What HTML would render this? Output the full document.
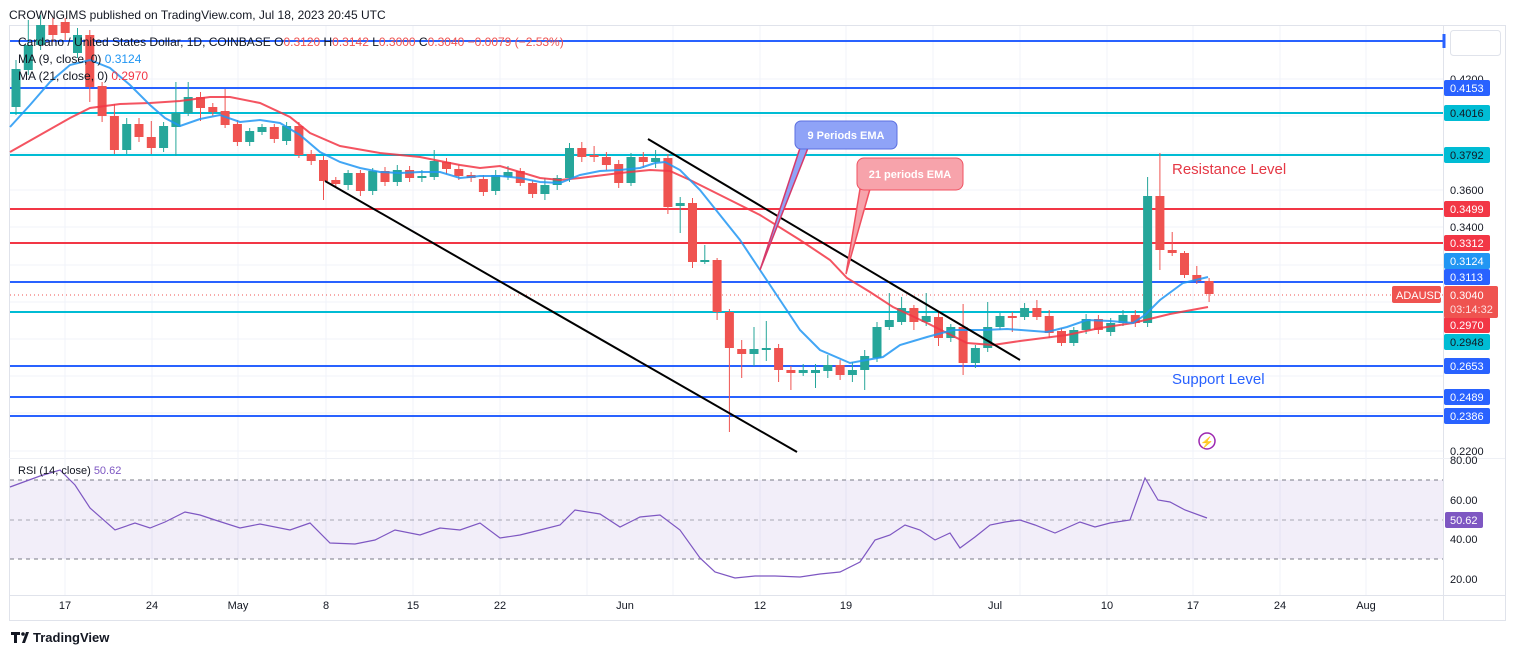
<!DOCTYPE html>
<html><head><meta charset="utf-8"><style>
body{margin:0;background:#fff;width:1515px;height:655px;overflow:hidden;font-family:"Liberation Sans",sans-serif}
svg text{font-family:"Liberation Sans",sans-serif}
</style></head><body>
<svg id="s" width="1515" height="655" viewBox="0 0 1515 655" xmlns="http://www.w3.org/2000/svg">
<rect width="1515" height="655" fill="#fff"/>
<text x="9" y="19" font-size="12" fill="#131722">CROWNGIMS published on TradingView.com, Jul 18, 2023 20:45 UTC</text>
<rect x="9.5" y="25.5" width="1496" height="595" fill="none" stroke="#e0e3eb"/>
<line x1="1443.5" y1="25" x2="1443.5" y2="620" stroke="#e0e3eb"/>
<line x1="9" y1="595.5" x2="1505" y2="595.5" stroke="#e0e3eb"/>
<line x1="9" y1="458.5" x2="1505" y2="458.5" stroke="#eef0f5"/>
<g id="grid" stroke="#f0f3fa"></g>
<g id="hl"></g>
<line x1="10" y1="295" x2="1443" y2="295" stroke="#ef5350" stroke-dasharray="1,3"/>
<g id="c"></g>
<polyline id="red" fill="none" stroke="#f23645" stroke-width="2" opacity="0.85"/>
<polyline id="blue" fill="none" stroke="#2196f3" stroke-width="2" opacity="0.85"/>
<line x1="325" y1="181" x2="797" y2="452" stroke="#000" stroke-width="2"/>
<line x1="648" y1="139" x2="1020" y2="360" stroke="#000" stroke-width="2"/>
<path d="M800,148 L760,270 L808,148 Z" fill="#8fa3f7" stroke="#d63a6a" stroke-width="1.5"/>
<rect x="795" y="121" width="102" height="28" rx="6" fill="#8fa3f7" stroke="#5b6fe0"/>
<text x="846" y="139" font-size="11" fill="#fff" text-anchor="middle" font-weight="bold">9 Periods EMA</text>
<path d="M860,189 L846,274 L870,189 Z" fill="#f7a3ab" stroke="#f05060" stroke-width="1.5"/>
<rect x="857" y="158" width="106" height="32" rx="7" fill="#f7a3ab" stroke="#f05060"/>
<text x="910" y="178" font-size="11" fill="#fff" text-anchor="middle" font-weight="bold">21 periods EMA</text>
<text x="1172" y="174" font-size="15" fill="#e53845">Resistance Level</text>
<text x="1172" y="384" font-size="15" fill="#2962ff">Support Level</text>
<circle cx="1207" cy="441" r="8" fill="none" stroke="#9c27b0" stroke-width="1.5"/>
<text x="1207" y="446" font-size="11" fill="#9c27b0" text-anchor="middle">⚡</text>
<text x="18" y="46" font-size="12" fill="#131722">Cardano / United States Dollar, 1D, COINBASE  <tspan>O</tspan><tspan fill="#ef5350">0.3120</tspan>  H<tspan fill="#ef5350">0.3142</tspan>  L<tspan fill="#ef5350">0.3000</tspan>  C<tspan fill="#ef5350">0.3040</tspan>  <tspan fill="#ef5350">−0.0079 (−2.53%)</tspan></text>
<text x="18" y="63" font-size="12" fill="#131722">MA (9, close, 0)  <tspan fill="#2196f3">0.3124</tspan></text>
<text x="18" y="80" font-size="12" fill="#131722">MA (21, close, 0)  <tspan fill="#f23645">0.2970</tspan></text>
<rect x="1450.5" y="30.5" width="50" height="25" rx="3" fill="#fff" stroke="#e0e3eb"/>
<g id="ax" font-size="11" fill="#131722"></g>
<g id="tags" font-size="11"></g>
<rect x="10" y="480" width="1433" height="79" fill="#7e57c2" opacity="0.1"/>
<line x1="10" y1="480" x2="1443" y2="480" stroke="#787b86" stroke-dasharray="4,4"/>
<line x1="10" y1="520" x2="1443" y2="520" stroke="#787b86" stroke-dasharray="4,4" opacity="0.6"/>
<line x1="10" y1="559" x2="1443" y2="559" stroke="#787b86" stroke-dasharray="4,4"/>
<polyline id="rsi" fill="none" stroke="#7e57c2" stroke-width="1.2"/>
<text x="18" y="474" font-size="11" fill="#131722">RSI (14, close)  <tspan fill="#7e57c2">50.62</tspan></text>
<g font-size="11" fill="#131722">
<text x="1450" y="464">80.00</text><text x="1450" y="504">60.00</text><text x="1450" y="543">40.00</text><text x="1450" y="583">20.00</text></g>
<rect x="1445" y="512" width="38" height="16" rx="2" fill="#7e57c2"/>
<text x="1450" y="524" font-size="11" fill="#fff">50.62</text>
<g font-size="11" fill="#131722" text-anchor="middle">
<text x="65" y="609">17</text><text x="152" y="609">24</text><text x="238" y="609">May</text><text x="326" y="609">8</text><text x="413" y="609">15</text><text x="500" y="609">22</text><text x="625" y="609">Jun</text><text x="760" y="609">12</text><text x="846" y="609">19</text><text x="995" y="609">Jul</text><text x="1107" y="609">10</text><text x="1193" y="609">17</text><text x="1280" y="609">24</text><text x="1366" y="609">Aug</text></g>
<path d="M11,632 h9 v3 h-3 v8 h-3 v-8 h-3z M22,643 l4,-11 h3 l-4,11z" fill="#131722"/>
<circle cx="23" cy="634" r="1.8" fill="#131722"/>
<text x="33" y="642" font-size="13" fill="#131722" font-weight="bold">TradingView</text>
</svg>
<script>
const NS="http://www.w3.org/2000/svg";
function el(p,t,a,txt){const e=document.createElementNS(NS,t);for(const k in a)e.setAttribute(k,a[k]);if(txt!==undefined)e.textContent=txt;document.getElementById(p).appendChild(e);return e;}
[65,152,238,326,413,500,587,673,760,846,933,1020,1107,1193,1280,1366].forEach(x=>el('grid','line',{x1:x,y1:26,x2:x,y2:595}));
[79,116,153,190,227,265,302,339,376,413,451].forEach(y=>el('grid','line',{x1:10,y1:y,x2:1443,y2:y}));
const B="#2962ff",T="#00bcd4",R="#f23645";
const lines=[[41,B],[88,B],[113,T],[155,T],[209,R],[243,R],[282,B],[312,T],[366,B],[397,B],[416,B]];
lines.forEach(l=>{el('hl','line',{x1:10,y1:l[0],x2:1443,y2:l[0],stroke:l[1],"stroke-width":2});});
el('hl','line',{x1:1444,y1:34,x2:1444,y2:48,stroke:B,"stroke-width":3});
const C=[[107,69,60,115],[70,45,20,75],[45,25,15,50],[25,35,18,42],[22,33,18,40],[53,35,28,58],[35,87,30,102],[86,116,82,122],[116,150,104,154],[150,124,118,154],[124,137,118,142],[137,148,121,154],[148,126,122,152],[127,113,82,156],[113,97,82,116],[97,108,92,121],[107,112,103,116],[111,125,89,128],[124,142,120,146],[142,131,128,146],[132,127,124,135],[127,139,124,143],[141,126,122,145],[126,155,122,158],[154,161,150,165],[160,181,156,200],[180,184,177,188],[185,173,170,190],[173,191,170,196],[191,171,168,195],[171,182,167,186],[182,170,165,186],[170,178,166,182],[178,176,170,182],[177,161,150,180],[162,169,158,174],[169,176,165,180],[175,178,172,182],[179,192,175,196],[191,175,170,195],[177,172,166,180],[171,183,168,186],[183,194,180,198],[194,185,178,200],[185,178,175,190],[178,148,143,182],[148,157,142,162],[155,157,146,162],[157,165,152,170],[164,183,160,188],[183,157,153,186],[157,162,152,168],[162,158,150,168],[158,207,154,214],[206,203,197,233],[203,262,198,268],[262,260,245,264],[260,312,258,320],[312,348,309,432],[349,354,340,378],[354,349,327,366],[350,348,321,361],[348,370,344,382],[370,373,366,390],[373,370,364,376],[373,370,364,388],[371,365,355,378],[365,375,360,380],[375,370,362,382],[370,356,350,390],[358,327,322,362],[327,320,293,330],[322,308,297,325],[308,322,305,330],[322,316,293,326],[317,338,312,346],[338,327,324,342],[327,363,304,375],[363,348,345,368],[348,327,302,352],[327,316,313,330],[316,318,312,332],[317,308,303,320],[308,317,300,320],[316,333,310,338],[331,343,328,346],[343,330,327,346],[330,319,314,334],[319,330,315,334],[332,323,318,336],[323,315,310,326],[315,323,310,327],[323,196,177,327],[196,250,153,270],[250,253,232,256],[253,275,251,278],[275,281,266,284],[281,294,278,302]];
C.forEach((c,i)=>{const x=16+12.3*i;const up=c[1]<c[0];const col=up?"#26a69a":"#ef5350";
el('c','line',{x1:x,y1:c[2],x2:x,y2:c[3],stroke:col,"stroke-width":1});
const t=Math.min(c[0],c[1]),h=Math.max(2,Math.abs(c[0]-c[1]));el('c','rect',{x:x-4.5,y:t,width:9,height:h,fill:col});});
const blue=[[10,127],[30,105],[50,82],[70,65],[90,60],[110,68],[130,85],[150,105],[165,118],[180,126],[200,119],[220,115],[240,122],[260,120],[280,123],[300,135],[320,152],[340,162],[360,168],[380,172],[400,173],[420,172],[440,172],[460,178],[480,176],[500,176],[520,178],[540,182],[560,183],[580,175],[600,171],[620,170],[640,168],[655,163],[665,162],[680,170],[700,190],[720,215],[740,240],[760,270],[780,300],[800,330],[820,350],[850,363],[883,357],[900,345],[927,337],[953,330],[983,330],[1007,329],[1047,332],[1067,327],[1087,320],[1110,321],[1133,323],[1145,315],[1160,300],[1183,283],[1208,277]];
const red=[[10,152],[40,135],[70,118],[90,108],[120,104],[150,103],[180,101],[210,97],[230,97],[260,103],[290,117],[310,133],[340,146],[380,153],[420,157],[460,165],[480,168],[500,166],[540,178],[560,180],[580,178],[620,173],[650,170],[670,171],[690,180],[720,195],[760,215],[800,240],[830,260],[847,278],[870,292],[893,307],[927,323],[967,343],[993,345],[1020,341],[1067,335],[1100,328],[1133,323],[1170,314],[1208,307]];
document.getElementById('blue').setAttribute('points',blue.map(p=>p.join(',')).join(' '));
document.getElementById('red').setAttribute('points',red.map(p=>p.join(',')).join(' '));
const rsi=[[10,487],[40,476],[60,470],[75,485],[90,508],[115,530],[135,523],[150,528],[165,522],[185,512],[200,515],[215,520],[240,528],[260,524],[290,530],[310,523],[330,543],[355,544],[375,540],[395,530],[420,535],[440,528],[460,530],[480,523],[500,538],[520,535],[540,530],[560,525],[575,510],[600,514],[620,527],[640,517],[660,515],[680,530],[700,558],[715,572],[735,578],[755,576],[775,576],[800,577],[820,574],[840,572],[860,562],[875,540],[890,535],[905,525],[920,530],[935,540],[950,533],[960,548],[975,537],[990,525],[1005,522],[1020,520],[1035,525],[1055,533],[1080,522],[1095,527],[1110,523],[1130,520],[1145,478],[1158,500],[1170,502],[1185,510],[1207,518]];
document.getElementById('rsi').setAttribute('points',rsi.map(p=>p.join(',')).join(' '));
[["0.4200",83],["0.3600",194],["0.3400",231],["0.2200",455]].forEach(a=>el('ax','text',{x:1450,y:a[1]},a[0]));
const tg=[[88,B,"0.4153"],[113,T,"0.4016"],[155,T,"0.3792"],[209,R,"0.3499"],[243,R,"0.3312"],[261,"#2196f3","0.3124"],[277,B,"0.3113"],[325,R,"0.2970"],[342,T,"0.2948"],[366,B,"0.2653"],[397,B,"0.2489"],[416,B,"0.2386"]];
tg.forEach(t=>{el('tags','rect',{x:1444,y:t[0]-8,width:46,height:16,rx:2,fill:t[1]});el('tags','text',{x:1450,y:t[0]+4,fill:t[1]==T?"#131722":"#fff"},t[2]);});
el('tags','rect',{x:1444,y:286,width:54,height:32,rx:2,fill:"#ef5350"});
el('tags','text',{x:1450,y:299,fill:"#fff"},"0.3040");
el('tags','text',{x:1450,y:313,fill:"#fde0e0"},"03:14:32");
el('tags','rect',{x:1392,y:286,width:49,height:17,rx:2,fill:"#ef5350"});
el('tags','text',{x:1396,y:299,fill:"#fff"},"ADAUSD");
</script>
</body></html>
